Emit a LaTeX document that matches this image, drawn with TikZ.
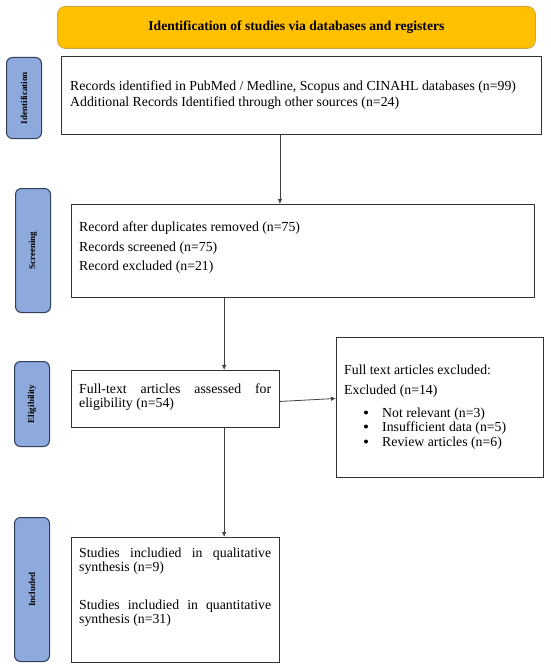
\documentclass[tikz,border=0pt]{standalone}
\usepackage{fontspec}
\setmainfont{Liberation Serif}
\usetikzlibrary{arrows.meta,calc}
\definecolor{gold}{HTML}{FFC000}
\definecolor{goldline}{HTML}{C9A44C}
\definecolor{sideblue}{HTML}{8EA9DB}
\definecolor{sideline}{HTML}{2F3F5C}
\definecolor{boxline}{HTML}{333333}
\begin{document}
\begin{tikzpicture}[x=1pt,y=-1pt,
  header/.style={draw=goldline, line width=0.8pt, fill=gold, rounded corners=8pt, anchor=north west, inner sep=0pt},
  side/.style={draw=sideline, line width=1pt, fill=sideblue, rounded corners=6pt, anchor=north west, minimum width=35pt, inner sep=0pt},
  sidelabel/.style={rotate=90, font=\fontsize{9}{10}\selectfont\bfseries, text=black},
  box/.style={draw=boxline, line width=0.9pt, fill=white, anchor=north west, inner sep=0pt},
  line/.style={anchor=base west, inner sep=0pt, font=\fontsize{13.8}{15}\selectfont},
  para/.style={anchor=north west, inner sep=0pt, text width=192pt, align=justify, font=\fontsize{13.8}{14}\selectfont},
  arr/.style={draw=black!75, line width=0.8pt, -{Latex[length=5pt,width=4.5pt]}}
]
\useasboundingbox (0,0) rectangle (550,669);
% header
\node[header, minimum width=478pt, minimum height=42pt] (hd) at (57,6) {};
\node[font=\fontsize{13.6}{15}\selectfont\bfseries] (hdt) at (hd.center) {Identification of studies via databases and registers};
% side bars
\node[side, minimum height=81pt] (s1) at (6,57) {};
\node[sidelabel] (s1t) at (s1.center) {Identification};
\node[side, minimum height=124pt] (s2) at (15,188) {};
\node[sidelabel] (s2t) at (s2.center) {Screening};
\node[side, minimum height=85pt] (s3) at (14,361) {};
\node[sidelabel] (s3t) at (s3.center) {Eligibility};
\node[side, minimum height=144pt] (s4) at (14,517) {};
\node[sidelabel] (s4t) at (s4.center) {Included};
% boxes
\node[box, minimum width=480pt, minimum height=78pt] (b1) at (61,56) {};
\node[line] (b1a) at (70,90) {Records identified in PubMed / Medline, Scopus and CINAHL databases (n=99)};
\node[line] (b1b) at (70,106) {Additional Records Identified through other sources (n=24)};

\node[box, minimum width=463pt, minimum height=93pt] (b2) at (71,204) {};
\node[line] (b2a) at (79,231) {Record after duplicates removed (n=75)};
\node[line] (b2b) at (79,251) {Records screened (n=75)};
\node[line] (b2c) at (79,270) {Record excluded (n=21)};

\node[box, minimum width=208pt, minimum height=57pt] (b3) at (71,370) {};
\node[para] (b3t) at (79,383.5) {Full-text articles assessed for\linebreak eligibility (n=54)};

\node[box, minimum width=207pt, minimum height=140pt] (b4) at (336,337) {};
\node[line] (b4a) at (344,374) {Full text articles excluded:};
\node[line] (b4b) at (344,394) {Excluded (n=14)};
\node[line] (b4c) at (382,417) {Not relevant (n=3)};
\node[line] (b4d) at (382,431) {Insufficient data (n=5)};
\node[line] (b4e) at (382,446) {Review articles (n=6)};
\fill (b4c.base west) ++(-16,-4.5) circle (2pt);
\fill (b4d.base west) ++(-16,-4.5) circle (2pt);
\fill (b4e.base west) ++(-16,-4.5) circle (2pt);

\node[box, minimum width=208pt, minimum height=125pt] (b5) at (71,537) {};
\node[para] (b5a) at (79,547.5) {Studies includied in qualitative\linebreak synthesis (n=9)};
\node[para] (b5b) at (79,599.5) {Studies includied in quantitative\linebreak synthesis (n=31)};

% connectors
\draw[arr] (b1.south -| b3.east) -- (b2.north -| b3.east);
\coordinate (mx) at ($(b3.north west)!0.733!(b3.north east)$);
\draw[arr] (b2.south -| mx) -- (b3.north -| mx);
\draw[arr] (b3.south -| mx) -- (b5.north -| mx);
\draw[arr] ([yshift=-2.5pt]b3.east) -- ([yshift=9pt]b4.west);
\end{tikzpicture}
\end{document}
